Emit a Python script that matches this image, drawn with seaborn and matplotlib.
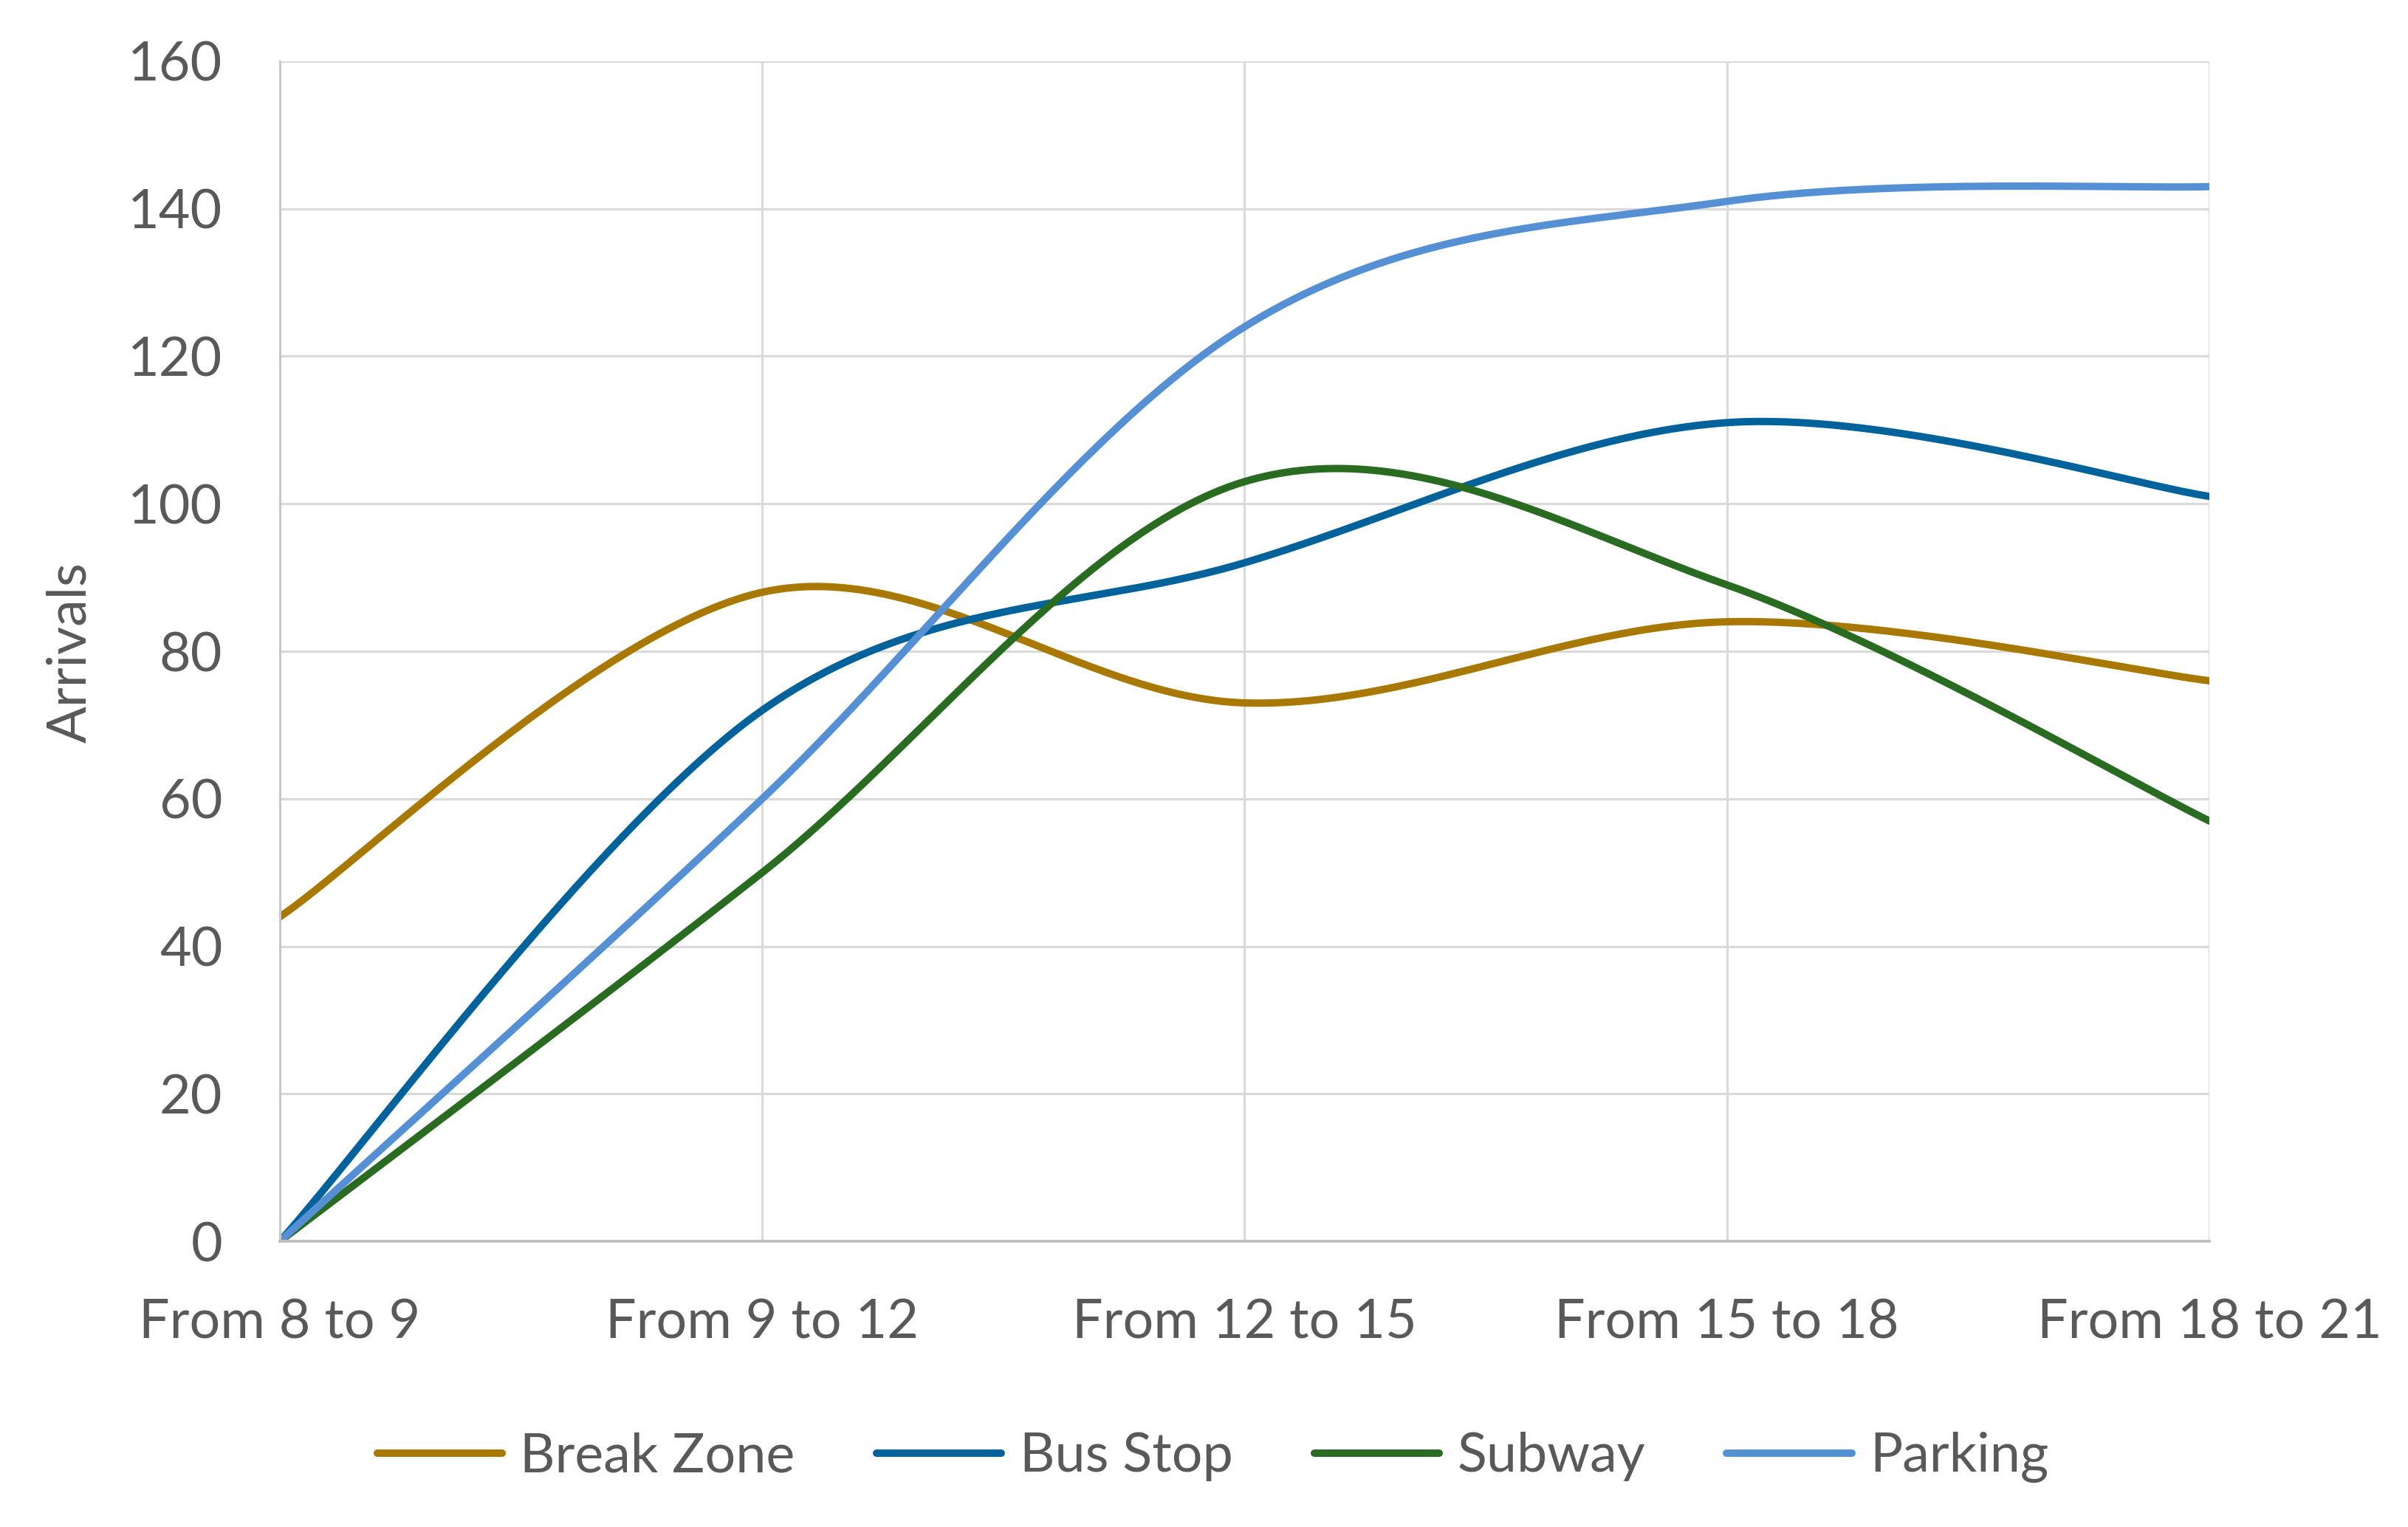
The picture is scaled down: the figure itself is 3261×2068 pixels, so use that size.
import matplotlib
matplotlib.use("Agg")
import matplotlib.pyplot as plt
import seaborn as sns
import numpy as np
import pandas as pd

# Dati
categories = ["From 8 to 9", "From 9 to 12", "From 12 to 15", "From 15 to 18", "From 18 to 21"]
series_names = ["Break Zone", "Bus Stop", "Subway", "Parking"]
break_zone = [44, 88, 73, 84, 76]
bus_stop = [0, 72, 92, 111, 101]
subway = [0, 50, 103, 89, 57]
parking = [0, 60, 124, 141, 143]
colors = ["#A87800", "#00629B", "#2A6B22", "#5590D5"]


def smooth(xs, ys, n=60):
    # curva liscia tipo Excel (Bezier Catmull-Rom)
    pts = np.column_stack([xs, ys]).astype(float)
    ext = np.vstack([pts[0], pts, pts[-1]])
    out = []
    for i in range(len(pts) - 1):
        p0, p1, p2, p3 = ext[i], ext[i + 1], ext[i + 2], ext[i + 3]
        c1 = p1 + (p2 - p0) / 6
        c2 = p2 - (p3 - p1) / 6
        t = np.linspace(0, 1, n, endpoint=(i == len(pts) - 2))[:, None]
        b = ((1 - t) ** 3) * p1 + 3 * ((1 - t) ** 2) * t * c1 + 3 * (1 - t) * t ** 2 * c2 + t ** 3 * p2
        out.append(b)
    return np.vstack(out)


rows = []
for name, vals in zip(series_names, [break_zone, bus_stop, subway, parking]):
    curve = smooth(np.arange(len(categories)), vals)
    for k, (x, y) in enumerate(curve):
        rows.append({"x": x, "Arrivals": y, "series": name, "order": k})
df = pd.DataFrame(rows)

sns.set_style("white")
plt.rcParams["font.family"] = ["Lato", "DejaVu Sans"]
fs = 26.5

fig = plt.figure(figsize=(16.31, 10.34), dpi=200)
ax = fig.add_axes([0.1162, 0.1871, 0.8010, 0.7728])

sns.lineplot(
    data=df, x="x", y="Arrivals", hue="series", hue_order=series_names,
    palette=colors, sort=False, estimator=None, linewidth=3.6, ax=ax
)

ax.set_xlim(0, len(categories) - 1)
ax.set_ylim(0, 160)
ax.set_yticks(range(0, 161, 20))
ax.set_xticks(range(len(categories)))
ax.set_xticklabels(categories)
ax.grid(True, color="#D9D9D9", linewidth=1.1)
ax.set_axisbelow(True)
for side in ["top", "right"]:
    ax.spines[side].set_visible(False)
ax.spines["left"].set_color("#C8C8C8")
ax.spines["bottom"].set_color("#BFBFBF")
ax.spines["left"].set_linewidth(1.1)
ax.spines["bottom"].set_linewidth(1.4)
ax.tick_params(axis="both", length=0, labelsize=fs, labelcolor="#595959")
ax.tick_params(axis="x", pad=28)
ax.tick_params(axis="y", pad=28)
ax.set_xlabel("")
ax.set_ylabel("")
fig.text(0.0295, 0.5726, "Arrivals", rotation=90, ha="center", va="center",
         fontsize=fs, color="#595959")

handles, labels = ax.get_legend_handles_labels()
ax.legend_.remove()
fig.legend(handles, labels, loc="center", bbox_to_anchor=(0.5035, 0.0455), ncol=4,
           frameon=False, fontsize=fs, labelcolor="#595959", handlelength=2.3,
           handletextpad=0.33, columnspacing=1.5)

fig.savefig("out.png", dpi=200)
